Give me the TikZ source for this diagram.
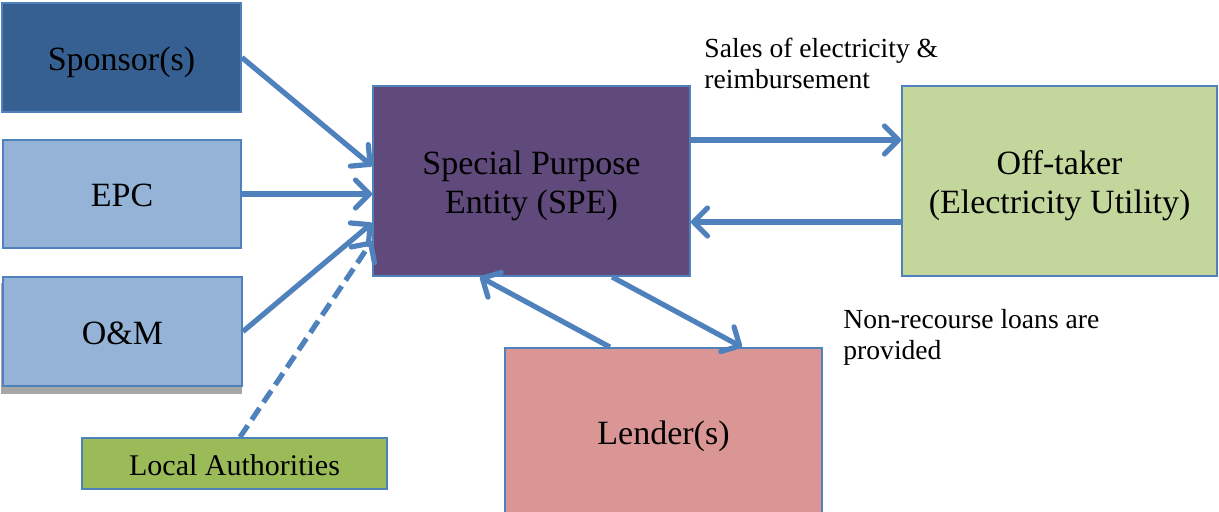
\documentclass[tikz,border=0pt]{standalone}
\usepackage{fontspec}
\setmainfont{Liberation Serif}
\usetikzlibrary{arrows.meta,backgrounds}
\definecolor{edgeblue}{HTML}{4F81BD}
\definecolor{sponsorfill}{HTML}{376092}
\definecolor{lightblue}{HTML}{95B3D7}
\definecolor{greenfill}{HTML}{9BBB59}
\definecolor{purplefill}{HTML}{604A7B}
\definecolor{palegreen}{HTML}{C3D69B}
\definecolor{pinkfill}{HTML}{D99694}
\definecolor{shadowgray}{HTML}{A6A6A6}
\newcommand{\boxlines}[1]{\raisebox{-2.5pt}[\height][\depth]{\begin{tabular}{@{}c@{}}#1\end{tabular}}}
\tikzset{
  box/.style={draw=edgeblue, line width=0.9pt, inner sep=0pt, align=center,
    font=\fontsize{17}{19.5}\selectfont},
  flow/.style={draw=edgeblue, line width=2.6pt,
    -{Straight Barb[length=7pt,width=14pt,round]}},
  lbl/.style={align=left, inner sep=0pt, anchor=west,
    font=\fontsize{13.8}{15.5}\selectfont}
}
\begin{document}
\begin{tikzpicture}[x=0.5pt,y=-0.5pt]
\useasboundingbox (0,0) rectangle (1219,511);
\node[box, fill=sponsorfill, minimum width=119.5pt, minimum height=54.5pt] (sponsor) at (121.5,57.5) {\boxlines{Sponsor(s)}};
\node[box, fill=lightblue, minimum width=119pt, minimum height=54pt] (epc) at (122,194) {\boxlines{EPC}};
\node[box, fill=lightblue, minimum width=119.5pt, minimum height=54.5pt] (om) at (122.5,331.5) {\boxlines{O\&M}};
\begin{scope}[on background layer]
\fill[shadowgray] ([xshift=-0.5pt,yshift=-3.5pt]om.south west) rectangle ([xshift=-0.5pt,yshift=-3.5pt]om.north east);
\end{scope}
\node[box, fill=greenfill, minimum width=152.5pt, minimum height=25.5pt, font=\fontsize{15}{17}\selectfont] (local) at (234.5,463.5) {\boxlines{Local Authorities}};
\node[box, fill=purplefill, minimum width=158.5pt, minimum height=95pt] (spe) at (531.5,181) {\boxlines{Special Purpose\\Entity (SPE)}};
\node[box, fill=palegreen, minimum width=157.5pt, minimum height=95pt] (off) at (1059.5,181) {\boxlines{Off-taker\\(Electricity Utility)}};
\node[box, fill=pinkfill, minimum width=158.5pt, minimum height=84pt] (lender) at (663.5,432) {\boxlines{Lender(s)}};
\node[lbl] (sales) at (704,63) {Sales of electricity \&\\reimbursement};
\node[lbl] (loans) at (843,337) {Non-recourse loans are\\provided};
% connectors
\draw[flow] (sponsor.east) -- ([yshift=7.5pt]spe.west);
\draw[flow] (epc.east) -- (epc.east -| spe.west);
\draw[flow] (om.east) -- ([yshift=-21pt]spe.west);
\draw[flow, dash pattern=on 7pt off 3.5pt] ([xshift=2.75pt]local.north) -- ([yshift=-30pt]spe.west);
\draw[flow] ([yshift=20.5pt]spe.east) -- ([yshift=20.5pt]off.west);
\draw[flow] ([yshift=-20.5pt]off.west) -- ([yshift=-20.5pt]spe.east);
\draw[flow] ([xshift=-26.75pt]lender.north) -- ([xshift=-25.75pt]spe.south);
\draw[flow] ([xshift=40.25pt]spe.south) -- ([xshift=39.25pt]lender.north);
\end{tikzpicture}
\end{document}
